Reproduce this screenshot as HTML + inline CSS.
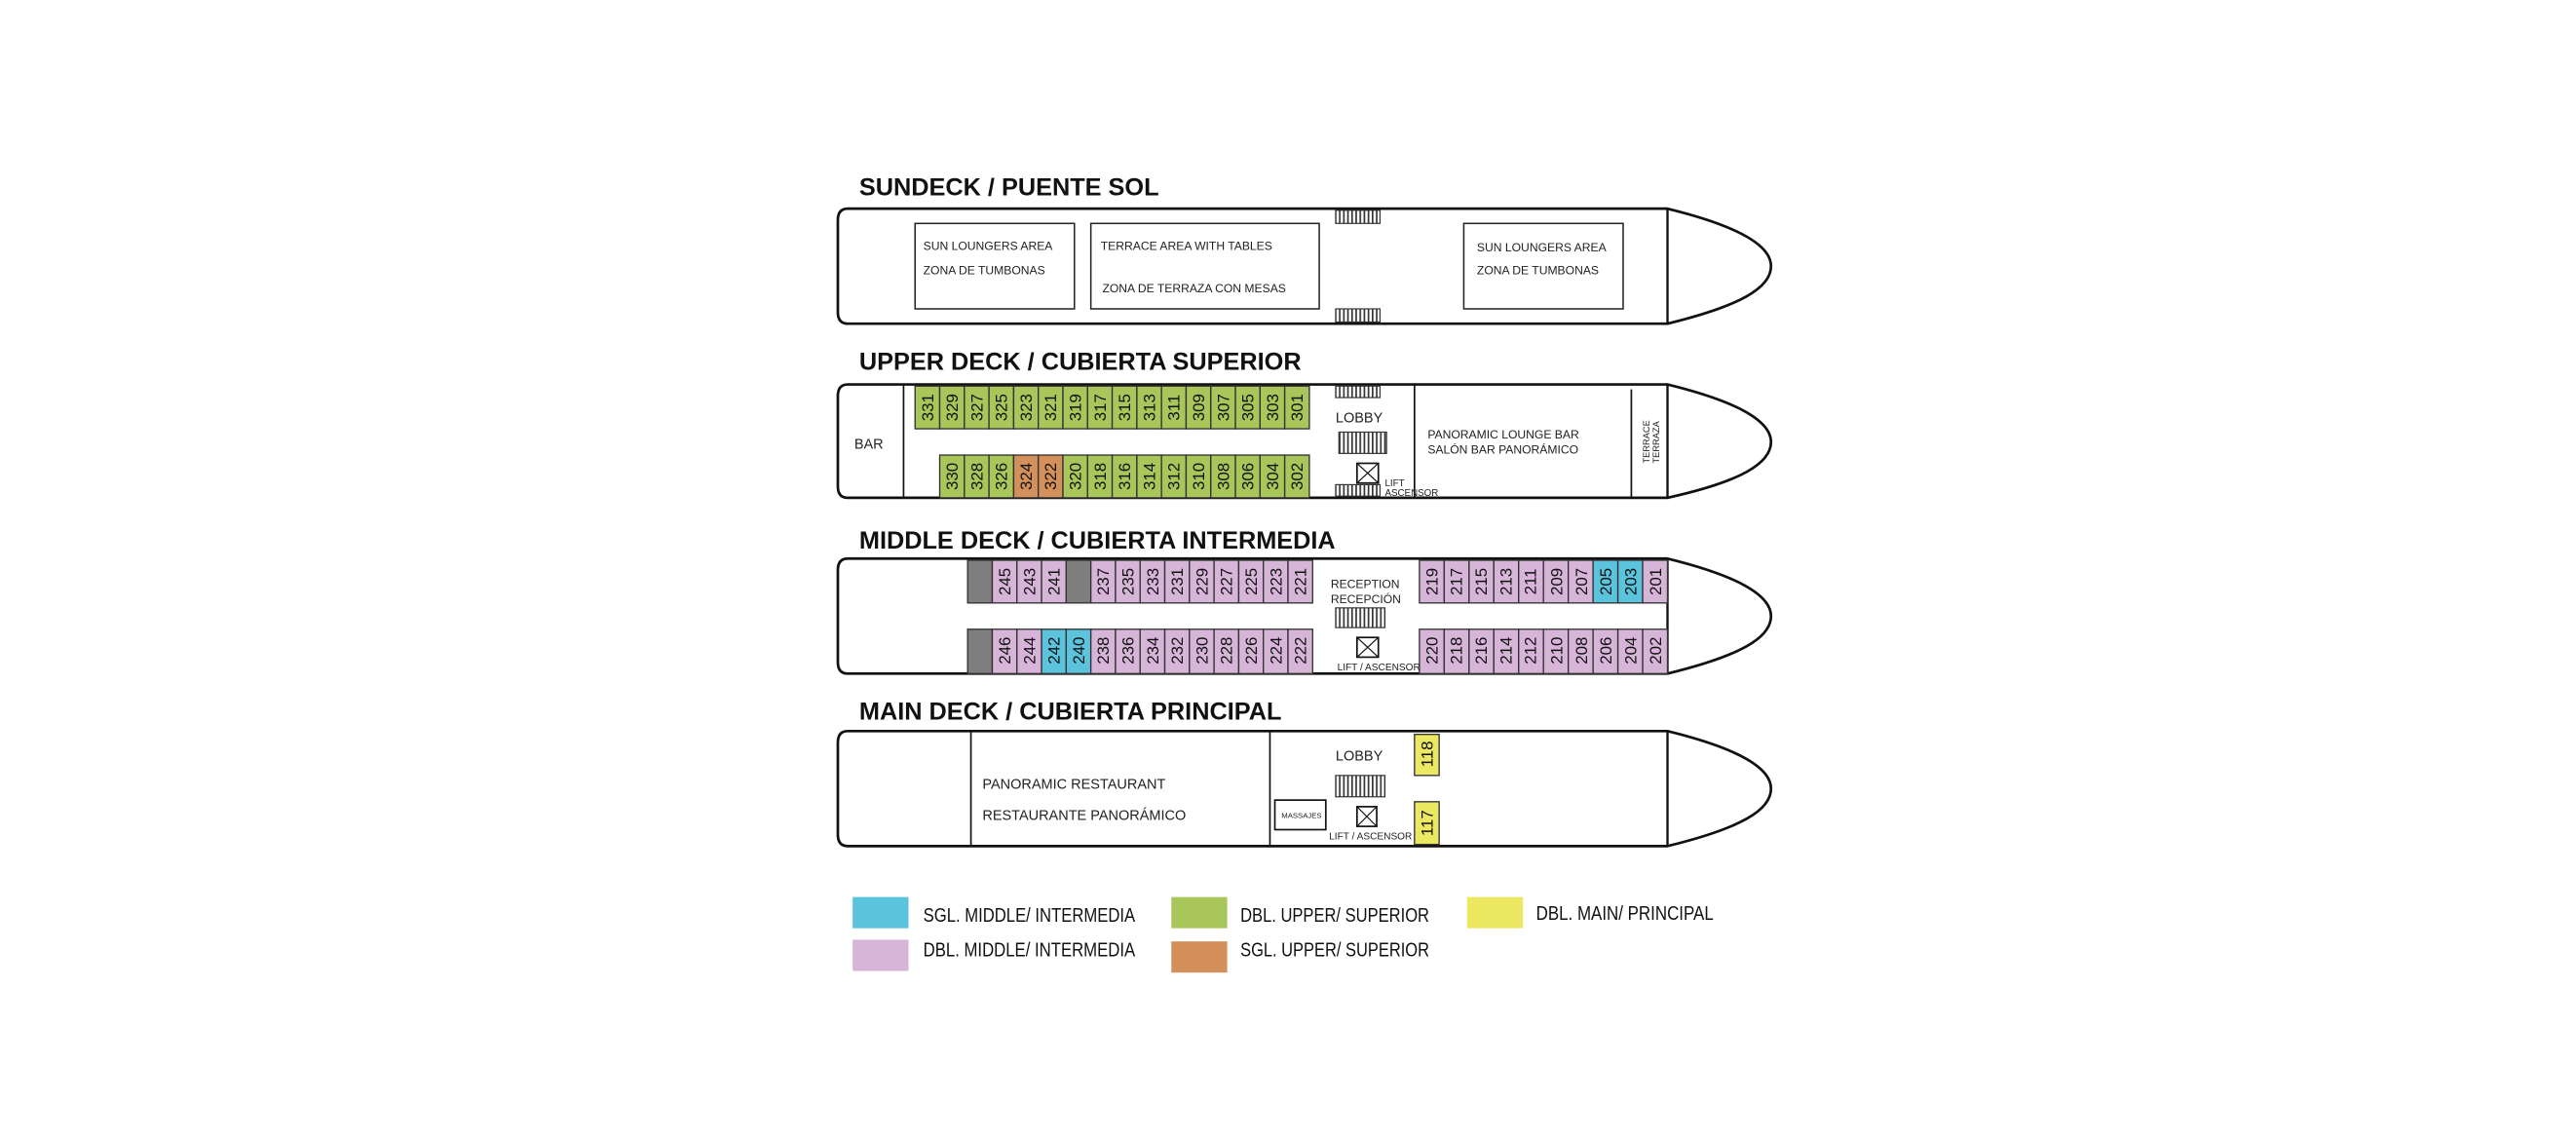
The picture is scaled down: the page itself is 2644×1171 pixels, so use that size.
<!DOCTYPE html>
<html><head><meta charset="utf-8"><style>
html,body{margin:0;padding:0;background:#fff}
svg{display:block}
.t{font-family:"Liberation Sans",sans-serif;font-weight:bold;font-size:15px;fill:#111}
.s{font-family:"Liberation Sans Narrow","Liberation Sans",sans-serif;font-size:7.2px;fill:#222}
.m{font-family:"Liberation Sans Narrow","Liberation Sans",sans-serif;font-size:8.6px;fill:#222}
.n{font-family:"Liberation Sans",sans-serif;font-size:10px;fill:#111}
.l{font-family:"Liberation Sans Narrow","Liberation Sans",sans-serif;font-size:12px;fill:#111}
.h{fill:#fff;stroke:#111;stroke-width:1.6}
.b{fill:#fff;stroke:#222;stroke-width:0.9}
.g rect{stroke:#333;stroke-width:0.8}
.G{fill:#a8c65a}.O{fill:#d4905a}.P{fill:#d7b5d8}.B{fill:#5bc3dc}.Y{fill:#ece862}.D{fill:#7f7f7f}
</style></head><body>
<svg width="2644" height="1171" viewBox="0 0 1568 694.5" preserveAspectRatio="none" xmlns="http://www.w3.org/2000/svg">
<defs>
<pattern id="st" width="2.5" height="10" patternUnits="userSpaceOnUse"><rect width="2.5" height="10" fill="#fff"/><rect width="1" height="10" fill="#333"/></pattern>
</defs>

<!-- SUNDECK -->
<text class="t" x="523" y="119">SUNDECK / PUENTE SOL</text>
<path class="h" d="M516,127 H1015 C1060,138 1078,150 1078,162 C1078,175 1060,186 1015,197 H516 Q510,197 510,190 V134 Q510,127 516,127 Z"/>
<line x1="1015" y1="127" x2="1015" y2="197" stroke="#111" stroke-width="1.4"/>
<rect class="b" x="557" y="136" width="97" height="52"/>
<rect class="b" x="664" y="136" width="139" height="52"/>
<rect class="b" x="891" y="136" width="97" height="52"/>
<text class="s" x="562" y="152">SUN LOUNGERS AREA</text>
<text class="s" x="562" y="167">ZONA DE TUMBONAS</text>
<text class="s" x="670" y="152">TERRACE AREA WITH TABLES</text>
<text class="s" x="671" y="178">ZONA DE TERRAZA CON MESAS</text>
<text class="s" x="899" y="153">SUN LOUNGERS AREA</text>
<text class="s" x="899" y="167">ZONA DE TUMBONAS</text>
<rect x="813" y="128" width="27" height="8" fill="url(#st)" stroke="#333" stroke-width="0.7"/>
<rect x="813" y="188" width="27" height="8" fill="url(#st)" stroke="#333" stroke-width="0.7"/>

<!-- UPPER DECK -->
<text class="t" x="523" y="225">UPPER DECK / CUBIERTA SUPERIOR</text>
<path class="h" d="M516,234 H1015 C1060,245 1078,257 1078,269 C1078,282 1060,293 1015,303 H516 Q510,303 510,296 V241 Q510,234 516,234 Z"/>
<line x1="1015" y1="234" x2="1015" y2="303" stroke="#111" stroke-width="1.4"/>
<line x1="550" y1="234" x2="550" y2="303" stroke="#111" stroke-width="1"/>
<line x1="861" y1="234" x2="861" y2="303" stroke="#111" stroke-width="1"/>
<line x1="993" y1="237" x2="993" y2="303" stroke="#111" stroke-width="1"/>
<text class="m" x="520" y="273">BAR</text>
<text class="m" x="813" y="257">LOBBY</text>
<text class="s" x="869" y="267">PANORAMIC LOUNGE BAR</text>
<text class="s" x="869" y="276">SALÓN BAR PANORÁMICO</text>
<text class="s" style="font-size:5.5px" transform="translate(1004,282) rotate(-90)">TERRACE</text>
<text class="s" style="font-size:5.5px" transform="translate(1010,282) rotate(-90)">TERRAZA</text>
<rect x="813" y="235" width="27" height="7" fill="url(#st)" stroke="#333" stroke-width="0.7"/>
<rect x="815" y="263" width="29" height="13" fill="url(#st)" stroke="#333" stroke-width="0.7"/>
<rect x="826" y="282" width="13" height="12" fill="#fff" stroke="#111" stroke-width="1"/>
<path d="M826,282 L839,294 M839,282 L826,294" stroke="#111" stroke-width="0.7"/>
<rect x="813" y="295" width="27" height="7" fill="url(#st)" stroke="#333" stroke-width="0.7"/>
<text class="s" style="font-size:5.8px" x="843" y="296">LIFT</text>
<text class="s" style="font-size:5.8px" x="843" y="302">ASCENSOR</text>
<g class="g">
<rect class="G" x="557" y="235" width="15" height="26"/><rect class="G" x="572" y="235" width="15" height="26"/><rect class="G" x="587" y="235" width="15" height="26"/><rect class="G" x="602" y="235" width="15" height="26"/><rect class="G" x="617" y="235" width="15" height="26"/><rect class="G" x="632" y="235" width="15" height="26"/><rect class="G" x="647" y="235" width="15" height="26"/><rect class="G" x="662" y="235" width="15" height="26"/><rect class="G" x="677" y="235" width="15" height="26"/><rect class="G" x="692" y="235" width="15" height="26"/><rect class="G" x="707" y="235" width="15" height="26"/><rect class="G" x="722" y="235" width="15" height="26"/><rect class="G" x="737" y="235" width="15" height="26"/><rect class="G" x="752" y="235" width="15" height="26"/><rect class="G" x="767" y="235" width="15" height="26"/><rect class="G" x="782" y="235" width="15" height="26"/>
<rect class="G" x="572" y="277" width="15" height="26"/><rect class="G" x="587" y="277" width="15" height="26"/><rect class="G" x="602" y="277" width="15" height="26"/><rect class="O" x="617" y="277" width="15" height="26"/><rect class="O" x="632" y="277" width="15" height="26"/><rect class="G" x="647" y="277" width="15" height="26"/><rect class="G" x="662" y="277" width="15" height="26"/><rect class="G" x="677" y="277" width="15" height="26"/><rect class="G" x="692" y="277" width="15" height="26"/><rect class="G" x="707" y="277" width="15" height="26"/><rect class="G" x="722" y="277" width="15" height="26"/><rect class="G" x="737" y="277" width="15" height="26"/><rect class="G" x="752" y="277" width="15" height="26"/><rect class="G" x="767" y="277" width="15" height="26"/><rect class="G" x="782" y="277" width="15" height="26"/>
</g>
<g class="n" text-anchor="middle">
<text transform="translate(568,248) rotate(-90)">331</text><text transform="translate(583,248) rotate(-90)">329</text><text transform="translate(598,248) rotate(-90)">327</text><text transform="translate(613,248) rotate(-90)">325</text><text transform="translate(628,248) rotate(-90)">323</text><text transform="translate(643,248) rotate(-90)">321</text><text transform="translate(658,248) rotate(-90)">319</text><text transform="translate(673,248) rotate(-90)">317</text><text transform="translate(688,248) rotate(-90)">315</text><text transform="translate(703,248) rotate(-90)">313</text><text transform="translate(718,248) rotate(-90)">311</text><text transform="translate(733,248) rotate(-90)">309</text><text transform="translate(748,248) rotate(-90)">307</text><text transform="translate(763,248) rotate(-90)">305</text><text transform="translate(778,248) rotate(-90)">303</text><text transform="translate(793,248) rotate(-90)">301</text>
<text transform="translate(583,290) rotate(-90)">330</text><text transform="translate(598,290) rotate(-90)">328</text><text transform="translate(613,290) rotate(-90)">326</text><text transform="translate(628,290) rotate(-90)">324</text><text transform="translate(643,290) rotate(-90)">322</text><text transform="translate(658,290) rotate(-90)">320</text><text transform="translate(673,290) rotate(-90)">318</text><text transform="translate(688,290) rotate(-90)">316</text><text transform="translate(703,290) rotate(-90)">314</text><text transform="translate(718,290) rotate(-90)">312</text><text transform="translate(733,290) rotate(-90)">310</text><text transform="translate(748,290) rotate(-90)">308</text><text transform="translate(763,290) rotate(-90)">306</text><text transform="translate(778,290) rotate(-90)">304</text><text transform="translate(793,290) rotate(-90)">302</text>
</g>

<!-- MIDDLE DECK -->
<text class="t" x="523" y="334">MIDDLE DECK / CUBIERTA INTERMEDIA</text>
<path class="h" d="M516,340 H1015 C1060,351 1078,363 1078,375 C1078,388 1060,399 1015,410 H516 Q510,410 510,403 V347 Q510,340 516,340 Z"/>
<line x1="1015" y1="340" x2="1015" y2="410" stroke="#111" stroke-width="1.4"/>
<g class="g">
<rect class="D" x="589" y="341" width="15" height="26"/><rect class="P" x="604" y="341" width="15" height="26"/><rect class="P" x="619" y="341" width="15" height="26"/><rect class="P" x="634" y="341" width="15" height="26"/><rect class="D" x="649" y="341" width="15" height="26"/><rect class="P" x="664" y="341" width="15" height="26"/><rect class="P" x="679" y="341" width="15" height="26"/><rect class="P" x="694" y="341" width="15" height="26"/><rect class="P" x="709" y="341" width="15" height="26"/><rect class="P" x="724" y="341" width="15" height="26"/><rect class="P" x="739" y="341" width="15" height="26"/><rect class="P" x="754" y="341" width="15" height="26"/><rect class="P" x="769" y="341" width="15" height="26"/><rect class="P" x="784" y="341" width="15" height="26"/>
<rect class="P" x="864" y="341" width="15.1" height="26"/><rect class="P" x="879.1" y="341" width="15.1" height="26"/><rect class="P" x="894.2" y="341" width="15.1" height="26"/><rect class="P" x="909.3" y="341" width="15.1" height="26"/><rect class="P" x="924.4" y="341" width="15.1" height="26"/><rect class="P" x="939.5" y="341" width="15.1" height="26"/><rect class="P" x="954.6" y="341" width="15.1" height="26"/><rect class="B" x="969.7" y="341" width="15.1" height="26"/><rect class="B" x="984.8" y="341" width="15.1" height="26"/><rect class="P" x="999.9" y="341" width="15.1" height="26"/>
<rect class="D" x="589" y="383" width="15" height="27"/><rect class="P" x="604" y="383" width="15" height="27"/><rect class="P" x="619" y="383" width="15" height="27"/><rect class="B" x="634" y="383" width="15" height="27"/><rect class="B" x="649" y="383" width="15" height="27"/><rect class="P" x="664" y="383" width="15" height="27"/><rect class="P" x="679" y="383" width="15" height="27"/><rect class="P" x="694" y="383" width="15" height="27"/><rect class="P" x="709" y="383" width="15" height="27"/><rect class="P" x="724" y="383" width="15" height="27"/><rect class="P" x="739" y="383" width="15" height="27"/><rect class="P" x="754" y="383" width="15" height="27"/><rect class="P" x="769" y="383" width="15" height="27"/><rect class="P" x="784" y="383" width="15" height="27"/>
<rect class="P" x="864" y="383" width="15.1" height="27"/><rect class="P" x="879.1" y="383" width="15.1" height="27"/><rect class="P" x="894.2" y="383" width="15.1" height="27"/><rect class="P" x="909.3" y="383" width="15.1" height="27"/><rect class="P" x="924.4" y="383" width="15.1" height="27"/><rect class="P" x="939.5" y="383" width="15.1" height="27"/><rect class="P" x="954.6" y="383" width="15.1" height="27"/><rect class="P" x="969.7" y="383" width="15.1" height="27"/><rect class="P" x="984.8" y="383" width="15.1" height="27"/><rect class="P" x="999.9" y="383" width="15.1" height="27"/>
</g>
<g class="n" text-anchor="middle">
<text transform="translate(615,354) rotate(-90)">245</text><text transform="translate(630,354) rotate(-90)">243</text><text transform="translate(645,354) rotate(-90)">241</text><text transform="translate(675,354) rotate(-90)">237</text><text transform="translate(690,354) rotate(-90)">235</text><text transform="translate(705,354) rotate(-90)">233</text><text transform="translate(720,354) rotate(-90)">231</text><text transform="translate(735,354) rotate(-90)">229</text><text transform="translate(750,354) rotate(-90)">227</text><text transform="translate(765,354) rotate(-90)">225</text><text transform="translate(780,354) rotate(-90)">223</text><text transform="translate(795,354) rotate(-90)">221</text>
<text transform="translate(875,354) rotate(-90)">219</text><text transform="translate(890,354) rotate(-90)">217</text><text transform="translate(905,354) rotate(-90)">215</text><text transform="translate(920,354) rotate(-90)">213</text><text transform="translate(935,354) rotate(-90)">211</text><text transform="translate(951,354) rotate(-90)">209</text><text transform="translate(966,354) rotate(-90)">207</text><text transform="translate(981,354) rotate(-90)">205</text><text transform="translate(996,354) rotate(-90)">203</text><text transform="translate(1011,354) rotate(-90)">201</text>
<text transform="translate(615,396) rotate(-90)">246</text><text transform="translate(630,396) rotate(-90)">244</text><text transform="translate(645,396) rotate(-90)">242</text><text transform="translate(660,396) rotate(-90)">240</text><text transform="translate(675,396) rotate(-90)">238</text><text transform="translate(690,396) rotate(-90)">236</text><text transform="translate(705,396) rotate(-90)">234</text><text transform="translate(720,396) rotate(-90)">232</text><text transform="translate(735,396) rotate(-90)">230</text><text transform="translate(750,396) rotate(-90)">228</text><text transform="translate(765,396) rotate(-90)">226</text><text transform="translate(780,396) rotate(-90)">224</text><text transform="translate(795,396) rotate(-90)">222</text>
<text transform="translate(875,396) rotate(-90)">220</text><text transform="translate(890,396) rotate(-90)">218</text><text transform="translate(905,396) rotate(-90)">216</text><text transform="translate(920,396) rotate(-90)">214</text><text transform="translate(935,396) rotate(-90)">212</text><text transform="translate(951,396) rotate(-90)">210</text><text transform="translate(966,396) rotate(-90)">208</text><text transform="translate(981,396) rotate(-90)">206</text><text transform="translate(996,396) rotate(-90)">204</text><text transform="translate(1011,396) rotate(-90)">202</text>
</g>
<text class="s" x="810" y="358">RECEPTION</text>
<text class="s" x="810" y="367">RECEPCIÓN</text>
<rect x="813" y="370" width="30" height="12" fill="url(#st)" stroke="#333" stroke-width="0.7"/>
<rect x="826" y="388" width="13" height="12" fill="#fff" stroke="#111" stroke-width="1"/>
<path d="M826,388 L839,400 M839,388 L826,400" stroke="#111" stroke-width="0.7"/>
<text class="s" style="font-size:6px" x="814" y="408">LIFT / ASCENSOR</text>

<!-- MAIN DECK -->
<text class="t" x="523" y="438">MAIN DECK / CUBIERTA PRINCIPAL</text>
<path class="h" d="M516,445 H1015 C1060,456 1078,468 1078,480 C1078,493 1060,504 1015,515 H516 Q510,515 510,508 V452 Q510,445 516,445 Z"/>
<line x1="1015" y1="445" x2="1015" y2="515" stroke="#111" stroke-width="1.4"/>
<line x1="591" y1="445" x2="591" y2="515" stroke="#111" stroke-width="1"/>
<line x1="773" y1="445" x2="773" y2="515" stroke="#111" stroke-width="1"/>
<text class="m" x="598" y="480">PANORAMIC RESTAURANT</text>
<text class="m" x="598" y="499">RESTAURANTE PANORÁMICO</text>
<text class="m" x="813" y="463">LOBBY</text>
<rect x="813" y="472" width="30" height="13" fill="url(#st)" stroke="#333" stroke-width="0.7"/>
<rect x="826" y="491" width="12" height="12" fill="#fff" stroke="#111" stroke-width="1"/>
<path d="M826,491 L838,503 M838,491 L826,503" stroke="#111" stroke-width="0.7"/>
<text class="s" style="font-size:6px" x="809" y="511">LIFT / ASCENSOR</text>
<rect x="776" y="487" width="31" height="18" fill="#fff" stroke="#111" stroke-width="1"/>
<text class="s" style="font-size:4.6px" x="780" y="498">MASSAJES</text>
<g class="g">
<rect class="Y" x="861" y="447" width="15" height="25"/>
<rect class="Y" x="861" y="488" width="15" height="26"/>
</g>
<g class="n" text-anchor="middle">
<text transform="translate(872,459) rotate(-90)">118</text>
<text transform="translate(872,501) rotate(-90)">117</text>
</g>

<!-- LEGEND -->
<rect class="B" x="519" y="546" width="34" height="19"/>
<rect class="P" x="519" y="572" width="34" height="19"/>
<rect class="G" x="713" y="546" width="34" height="19"/>
<rect class="O" x="713" y="573" width="34" height="19"/>
<rect class="Y" x="893" y="546" width="34" height="19"/>
<text class="l" x="562" y="561" textLength="129" lengthAdjust="spacingAndGlyphs">SGL. MIDDLE/ INTERMEDIA</text>
<text class="l" x="562" y="582" textLength="129" lengthAdjust="spacingAndGlyphs">DBL. MIDDLE/ INTERMEDIA</text>
<text class="l" x="755" y="561" textLength="115" lengthAdjust="spacingAndGlyphs">DBL. UPPER/ SUPERIOR</text>
<text class="l" x="755" y="582" textLength="115" lengthAdjust="spacingAndGlyphs">SGL. UPPER/ SUPERIOR</text>
<text class="l" x="935" y="560" textLength="108" lengthAdjust="spacingAndGlyphs">DBL. MAIN/ PRINCIPAL</text>
</svg>
</body></html>
